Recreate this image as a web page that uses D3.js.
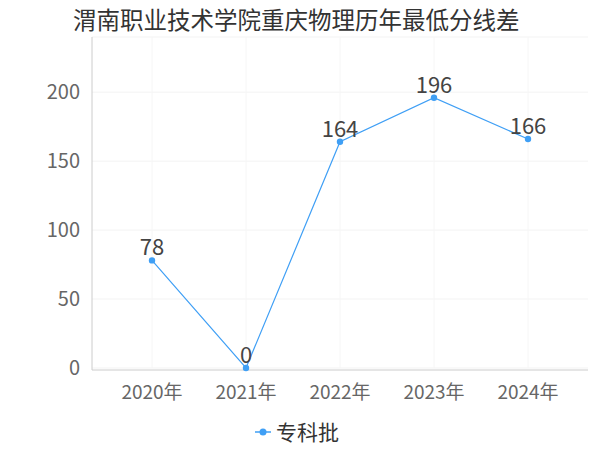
<!DOCTYPE html><html><head><meta charset="utf-8"><script src="https://cdn.jsdelivr.net/npm/d3@7"></script>
<style>body{margin:0;background:#fff}text{font-family:"Noto Sans CJK SC","Noto Sans",sans-serif}</style></head><body>
<svg id="c" width="600" height="450"></svg>
<script>
const categories=["2020年","2021年","2022年","2023年","2024年"];
const values=[78,0,164,196,166];
const yTicks=[0,50,100,150,200];
const seriesName="专科批";
const svg=d3.select("#c");
const color="#3f9ff5";
svg.append("text").attr("x",73).attr("y",29).attr("font-size",23.5).attr("fill","#333").text("渭南职业技术学院重庆物理历年最低分线差");
const x=d3.scaleBand().domain(categories).range([105,575]);
const y=d3.scaleLinear().domain([0,240]).range([368,37]);
const g=svg.append("g");
[0,50,100,150,200,240].forEach(t=>g.append("line").attr("x1",92).attr("x2",588).attr("y1",y(t)).attr("y2",y(t)).attr("stroke","#f3f3f3"));
categories.forEach(c=>g.append("line").attr("x1",x(c)+x.bandwidth()/2).attr("x2",x(c)+x.bandwidth()/2).attr("y1",37).attr("y2",368).attr("stroke","#f6f6f6"));
g.append("line").attr("x1",92).attr("x2",92).attr("y1",37).attr("y2",370).attr("stroke","#ccc");
g.append("line").attr("x1",92).attr("x2",588).attr("y1",370).attr("y2",370).attr("stroke","#ccc");
yTicks.forEach(t=>g.append("text").attr("x",80).attr("y",y(t)+7).attr("text-anchor","end").attr("font-size",20).attr("fill","#666").text(t));
categories.forEach(c=>g.append("text").attr("x",x(c)+x.bandwidth()/2).attr("y",399).attr("text-anchor","middle").attr("font-size",19).attr("fill","#666").text(c));
const cx=(d,i)=>x(categories[i])+x.bandwidth()/2;
g.append("path").datum(values).attr("fill","none").attr("stroke",color).attr("stroke-width",1.2)
 .attr("d",d3.line().x(cx).y(d=>y(d)));
g.selectAll("circle").data(values).join("circle").attr("cx",cx).attr("cy",d=>y(d)).attr("r",3.2).attr("fill",color);
g.selectAll(".lb").data(values).join("text").attr("x",cx).attr("y",d=>y(d)-5).attr("text-anchor","middle").attr("font-size",22).attr("fill","#444").text(d=>d);
svg.append("line").attr("x1",255).attr("x2",271).attr("y1",432).attr("y2",432).attr("stroke",color).attr("stroke-width",1.5);
svg.append("circle").attr("cx",263).attr("cy",432).attr("r",3.5).attr("fill",color);
svg.append("text").attr("x",276).attr("y",440).attr("font-size",21).attr("fill","#333").text(seriesName);
</script></body></html>
